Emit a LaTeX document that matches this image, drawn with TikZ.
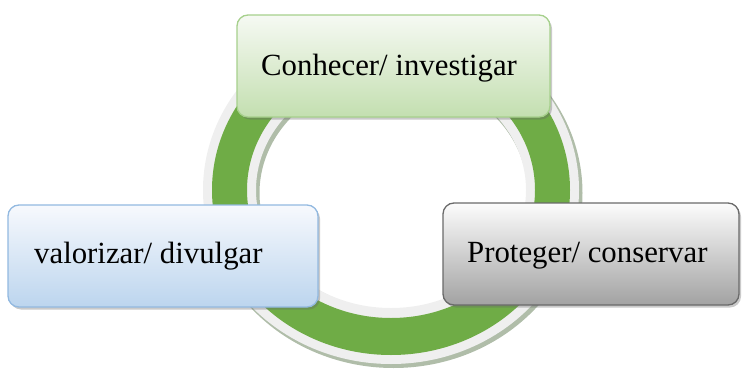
\documentclass[tikz,border=0pt]{standalone}
\usepackage{fontspec}
\setmainfont{Liberation Serif}
\usetikzlibrary{shadows}

\definecolor{ringgreen}{HTML}{6FAC46}
\definecolor{ringrim}{HTML}{EFEFEF}
\definecolor{ringshade}{HTML}{9CAD94}
\definecolor{greentop}{HTML}{F6F9F3}
\definecolor{greenbot}{HTML}{C3DFB0}
\definecolor{greenedge}{HTML}{A6D08C}
\definecolor{bluetop}{HTML}{F7F9FD}
\definecolor{bluebot}{HTML}{BCD5EE}
\definecolor{blueedge}{HTML}{92B9E0}
\definecolor{greytop}{HTML}{FCFCFC}
\definecolor{greybot}{HTML}{A2A2A2}
\definecolor{greyedge}{HTML}{6A6A6A}

\tikzset{
  card/.style={rectangle, rounded corners=11pt, line width=1.3pt,
    shading=axis, shading angle=0, inner sep=0pt,
    drop shadow={shadow xshift=2pt, shadow yshift=-2.5pt, opacity=0.35, fill=black!60}},
  cardtext/.style={anchor=base west, inner sep=0pt,
    font=\fontsize{30.8}{36}\selectfont},
}

\begin{document}
\begin{tikzpicture}[x=1pt, y=-1pt]
  \useasboundingbox (0,0) rectangle (742,375);

  % ring: soft shadow, pale rim, green band
  \coordinate (hub) at (391,190);
  \coordinate (hubshade) at (393.5,193);
  \fill[ringshade, opacity=0.8, even odd rule]
    (hubshade) ellipse[x radius=189, y radius=175]
    (hubshade) ellipse[x radius=134, y radius=117];
  \fill[ringrim, even odd rule]
    (hub) ellipse[x radius=188, y radius=174]
    (hub) ellipse[x radius=135, y radius=118];
  \fill[ringgreen, even odd rule]
    (hub) ellipse[x radius=179, y radius=165]
    (hub) ellipse[x radius=144, y radius=128];

  % the three stages
  \node[card, draw=greenedge, top color=greentop, bottom color=greenbot,
        minimum width=313pt, minimum height=102pt] (know) at (393.5,66) {};
  \node[card, draw=blueedge, top color=bluetop, bottom color=bluebot,
        minimum width=310pt, minimum height=102pt] (value) at (163,256) {};
  \node[card, draw=greyedge, top color=greytop, bottom color=greybot,
        minimum width=296pt, minimum height=102pt] (keep) at (591,254) {};

  \node[cardtext] (knowtext) at (261,75) {Conhecer/ investigar};
  \node[cardtext] (valuetext) at (34,263) {valorizar/ divulgar};
  \node[cardtext] (keeptext) at (467,262) {Proteger/ conservar};
\end{tikzpicture}
\end{document}
